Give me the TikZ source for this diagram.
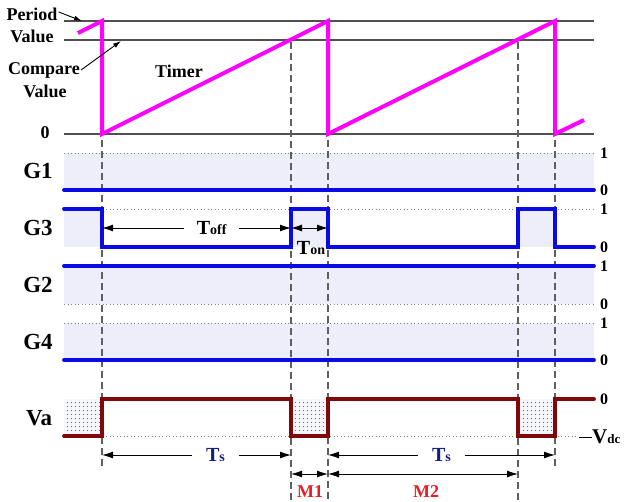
\documentclass[tikz,border=0pt]{standalone}
\usepackage{fontspec}
\setmainfont{Liberation Serif}
\usetikzlibrary{arrows.meta,patterns.meta}
\definecolor{sigblue}{RGB}{10,10,230}
\definecolor{sigred}{RGB}{128,8,8}
\definecolor{timermag}{RGB}{255,0,255}
\definecolor{bandfill}{RGB}{238,238,250}
\definecolor{tsnavy}{RGB}{20,30,130}
\definecolor{mred}{RGB}{230,30,40}
\definecolor{gridgray}{RGB}{80,80,80}
\definecolor{dashgray}{RGB}{95,95,95}
\begin{document}
\begin{tikzpicture}[x=1pt,y=-1pt,
 txt/.style={inner sep=0pt},
 lbl/.style={txt, font=\bfseries\fontsize{18}{18}\selectfont},
 sig/.style={txt, font=\bfseries\fontsize{23}{23}\selectfont},
 lvl/.style={txt, font=\bfseries\fontsize{16}{16}\selectfont, anchor=west},
 gridl/.style={gridgray, line width=1.2pt},
 dotl/.style={gray, line width=1pt, dash pattern=on 1pt off 2.5pt},
 vdash/.style={dashgray, line width=1.4pt, dash pattern=on 7pt off 4pt},
 bluew/.style={sigblue, line width=3.8pt, line cap=round, line join=miter},
 redw/.style={sigred, line width=3.8pt, line cap=round, line join=miter},
 tim/.style={timermag, line width=4pt, line join=miter},
 dimarrow/.style={black, line width=1pt, {Latex[length=11pt,width=7pt]}-{Latex[length=11pt,width=7pt]}},
 band/.style={fill=bandfill, draw=none},
 dotfill/.style={fill=bandfill!60!white, postaction={pattern={Dots[distance=4pt,radius=0.5pt]}, pattern color=black}},
 ptr/.style={-{Latex[length=8pt,width=5pt]}, line width=0.9pt},
 bigT/.style={txt, font=\bfseries\fontsize{20}{20}\selectfont}
]
\useasboundingbox (0,0) rectangle (624,501);

% ---------- shaded bands ----------
\fill[band] (64,153) rectangle (594,190);
\fill[band] (64,209) rectangle (102,247);
\fill[band] (291,209) rectangle (328,247);
\fill[band] (518,209) rectangle (555,247);
\fill[band] (64,266) rectangle (594,304);
\fill[band] (64,323) rectangle (594,360);
\path[dotfill] (64,399) rectangle (102,436);
\path[dotfill] (291,399) rectangle (328,436);
\path[dotfill] (518,399) rectangle (555,436);

% ---------- timer grid ----------
\coordinate (perL) at (64,21);  \coordinate (perR) at (594,21);
\coordinate (cmpL) at (64,40);  \coordinate (cmpR) at (594,40);
\coordinate (zerL) at (64,134); \coordinate (zerR) at (594,134);
\draw[gridl] (perL) -- (perR);
\draw[gridl] (cmpL) -- (cmpR);
\draw[gridl] (zerL) -- (zerR);

% ---------- dotted reference lines ----------
\draw[dotl] (64,153) -- (594,153);
\draw[dotl] (64,209) -- (594,209);
\draw[dotl] (64,304) -- (594,304);
\draw[dotl] (64,323) -- (594,323);
\draw[dotl] (64,436) -- (577,436);

% ---------- vertical dashed lines ----------
\coordinate (d1t) at (102,140); \coordinate (d1b) at (102,466);
\coordinate (d2t) at (291,42);  \coordinate (d2b) at (291,501);
\coordinate (d3t) at (328,140); \coordinate (d3b) at (328,501);
\coordinate (d4t) at (518,42);  \coordinate (d4b) at (518,501);
\coordinate (d5t) at (555,140); \coordinate (d5b) at (555,468);
\foreach \a in {1,...,5} \draw[vdash] (d\a t) -- (d\a b);

% ---------- timer ----------
\draw[tim] (78,33) -- (102,21) -- (102,134) -- (328,21) -- (328,134)
  -- (555,21) -- (555,134) -- (584,120);

% ---------- gate signals ----------
\draw[bluew] (64,190) -- (594,190);
\draw[bluew] (64,209) -- (102,209) -- (102,247) -- (291,247) -- (291,209)
  -- (328,209) -- (328,247) -- (518,247) -- (518,209) -- (555,209)
  -- (555,247) -- (594,247);
\draw[bluew] (64,266) -- (594,266);
\draw[bluew] (64,360) -- (594,360);

% ---------- Va ----------
\draw[redw] (64,436) -- (102,436) -- (102,399) -- (291,399) -- (291,436)
  -- (328,436) -- (328,399) -- (518,399) -- (518,436) -- (555,436)
  -- (555,399) -- (594,399);

% ---------- left labels ----------
\node[lbl] (period) at (32,14) {Period};
\node[lbl] (pvalue) at (32,36) {Value};
\node[lbl] (compare) at (44,70) {Compare};
\node[lbl] (cvalue) at (45,91) {Value};
\node[lbl] (timer) at (179,71) {Timer};
\node[lbl] (zero) at (45,133) {0};
\coordinate (perTip) at (82,21);
\coordinate (cmpTip) at (121,41);
\draw[ptr] (period.east) ++(1,-2) coordinate (perTail) -- (perTip);
\draw[ptr] (compare.east) ++(1,0) coordinate (cmpTail) -- (cmpTip);

\node[sig] (g1) at (38,171) {G1};
\node[sig] (g3) at (38,228) {G3};
\node[sig] (g2) at (38,285) {G2};
\node[sig] (g4) at (38,342) {G4};
\node[sig] (va) at (39,418) {Va};

% ---------- level labels ----------
\node[lvl] (g1one) at (600,153) {1};
\node[lvl] (g1zero) at (600,190) {0};
\node[lvl] (g3one) at (600,209) {1};
\node[lvl] (g3zero) at (600,247) {0};
\node[lvl] (g2one) at (600,266) {1};
\node[lvl] (g2zero) at (600,304) {0};
\node[lvl] (g4one) at (600,323) {1};
\node[lvl] (g4zero) at (600,360) {0};
\node[lvl] (vazero) at (600,399) {0};
\node[txt, anchor=west] (vdc) at (579,437) {\rule[5.5pt]{13pt}{1.1pt}\bfseries\fontsize{21}{21}\selectfont V\fontsize{13}{13}\selectfont dc};

% ---------- Toff / Ton ----------
\coordinate (toffL) at (102,228); \coordinate (toffR) at (291,228);
\coordinate (tonR) at (328,228);
\draw[dimarrow] (toffL) -- node[pos=0.58, bigT, fill=white, inner xsep=13pt, inner ysep=2pt] (toff) {T\fontsize{14}{14}\selectfont off} (toffR);
\draw[dimarrow] (toffR) -- (tonR);
\node[bigT] (ton) at (311,248) {T\fontsize{14}{14}\selectfont on};

% ---------- Ts / M ----------
\coordinate (ts1L) at (102,455); \coordinate (ts1R) at (291,455);
\coordinate (ts2L) at (328,455); \coordinate (ts2R) at (555,455);
\coordinate (m1L) at (291,474);  \coordinate (m1R) at (328,474);
\coordinate (m2L) at (328,474);  \coordinate (m2R) at (518,474);
\draw[dimarrow] (ts1L) -- node[pos=0.6, bigT, text=tsnavy, fill=white, inner xsep=14pt, inner ysep=2pt] (ts1) {T\fontsize{14}{14}\selectfont s} (ts1R);
\draw[dimarrow] (ts2L) -- node[bigT, text=tsnavy, fill=white, inner xsep=14pt, inner ysep=2pt] (ts2) {T\fontsize{14}{14}\selectfont s} (ts2R);
\draw[dimarrow] (m1L) -- (m1R);
\draw[dimarrow] (m2L) -- (m2R);
\node[lbl, text=mred] (m1) at (310,492) {M1};
\node[lbl, text=mred] (m2) at (426,492) {M2};
\end{tikzpicture}
\end{document}
